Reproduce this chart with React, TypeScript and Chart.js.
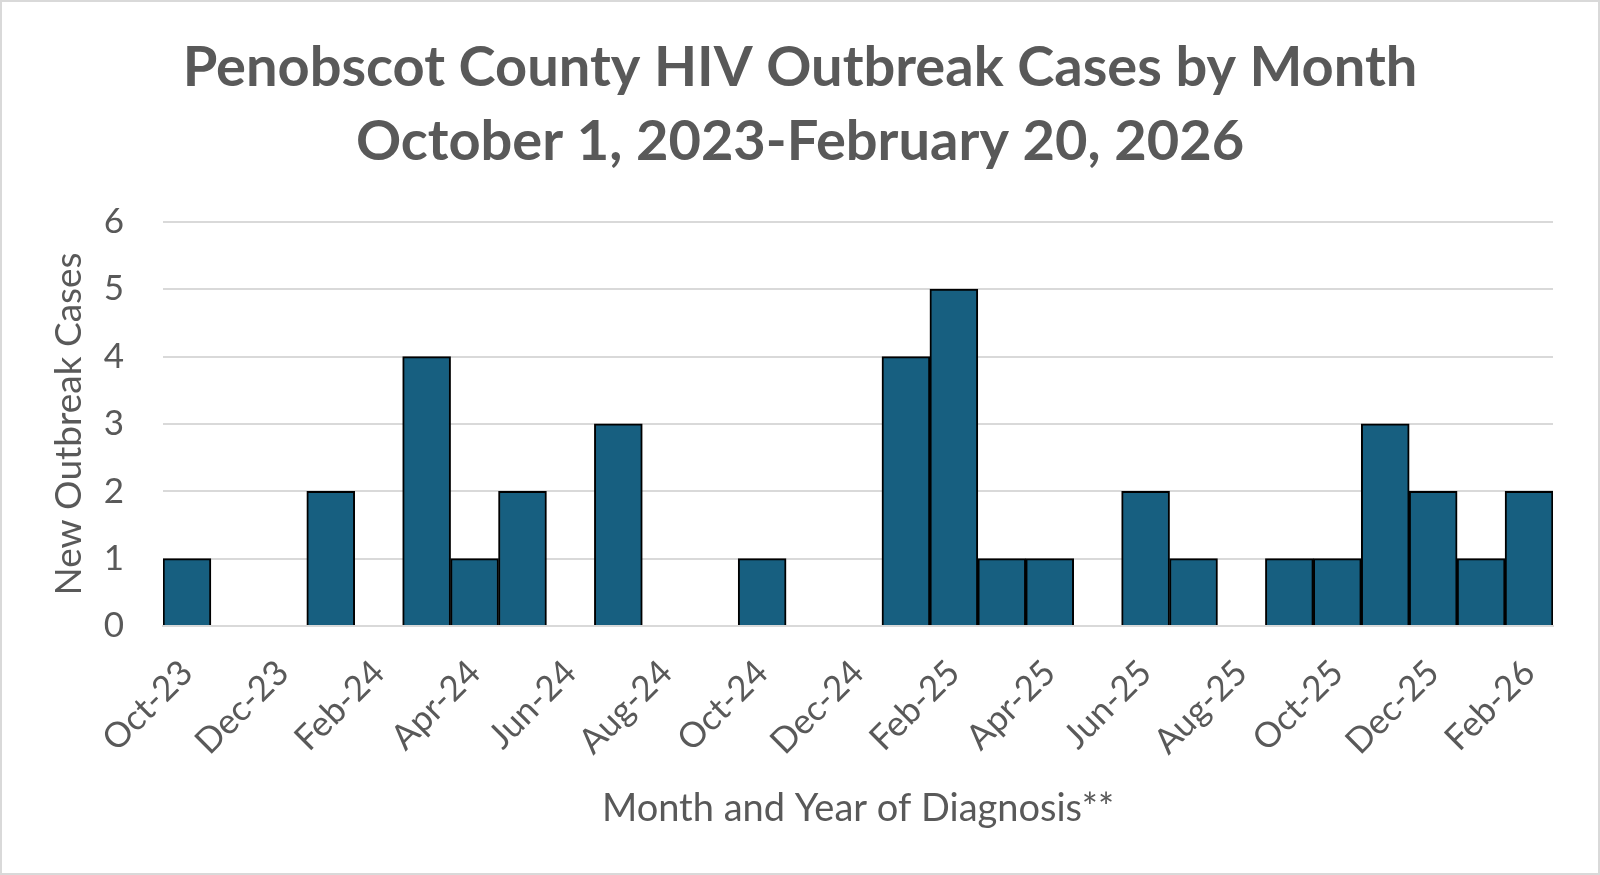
import { useEffect, useRef } from 'react'
import { Chart, registerables } from 'chart.js'

Chart.register(...registerables)

const months = [
  'Oct-23', 'Nov-23', 'Dec-23',
  'Jan-24', 'Feb-24', 'Mar-24', 'Apr-24', 'May-24', 'Jun-24',
  'Jul-24', 'Aug-24', 'Sep-24', 'Oct-24', 'Nov-24', 'Dec-24',
  'Jan-25', 'Feb-25', 'Mar-25', 'Apr-25', 'May-25', 'Jun-25',
  'Jul-25', 'Aug-25', 'Sep-25', 'Oct-25', 'Nov-25', 'Dec-25',
  'Jan-26', 'Feb-26',
]

const newCases = [
  1, 0, 0,
  2, 0, 4, 1, 2, 0,
  3, 0, 0, 1, 0, 0,
  4, 5, 1, 1, 0, 2,
  1, 0, 1, 1, 3, 2,
  1, 2,
]

const titleLines = [
  'Penobscot County HIV Outbreak Cases by Month',
  'October 1, 2023-February 20, 2026',
]

const textGray = '#595959'
const gridGray = '#d9d9d9'

const App = () => {
  const canvasRef = useRef<HTMLCanvasElement>(null)

  useEffect(() => {
    const chart = new Chart(canvasRef.current!, {
      type: 'bar',
      data: {
        labels: months,
        datasets: [
          {
            label: 'New Outbreak Cases',
            data: newCases,
            backgroundColor: '#175f80',
            borderColor: '#000000',
            borderWidth: 2,
            categoryPercentage: 1,
            barPercentage: 1,
          },
        ],
      },
      options: {
        animation: false,
        responsive: true,
        maintainAspectRatio: false,
        layout: { padding: 0 },
        plugins: {
          legend: { display: false },
          tooltip: { enabled: false },
          title: {
            display: true,
            text: titleLines,
            color: textGray,
            font: { family: 'Lato', size: 56, weight: 'bold', lineHeight: 1.32 },
            padding: { top: 31, bottom: 43 },
          },
        },
        scales: {
          x: {
            grid: { display: false },
            border: { display: true, color: gridGray, width: 2 },
            ticks: {
              autoSkip: false,
              minRotation: 45,
              maxRotation: 45,
              padding: 18,
              color: textGray,
              font: { family: 'Lato', size: 35 },
              callback: (_v, i) => (i % 2 === 0 ? months[i] : ''),
            },
            title: {
              display: true,
              text: 'Month and Year of Diagnosis**',
              color: textGray,
              font: { family: 'Lato', size: 38 },
              padding: { top: 0, bottom: 43 },
            },
            afterFit: (scale) => {
              scale.height = 249
            },
          },
          y: {
            min: 0,
            max: 6,
            grid: { color: gridGray, lineWidth: 2, drawTicks: false },
            border: { display: false },
            ticks: {
              stepSize: 1,
              padding: 39,
              color: textGray,
              font: { family: 'Lato', size: 35 },
            },
            title: {
              display: true,
              text: 'New Outbreak Cases',
              color: textGray,
              font: { family: 'Lato', size: 37 },
              padding: { top: 47, bottom: 0 },
            },
            afterFit: (scale) => {
              scale.width = 163
            },
          },
          // empty right-hand spacer so the title stays centred on the canvas
          spacer: {
            type: 'linear',
            position: 'right',
            grid: { display: false },
            border: { display: false },
            ticks: { display: false },
            afterFit: (scale) => {
              scale.width = 47
            },
          },
        },
      },
    })

    return () => chart.destroy()
  }, [])

  return (
    <div style={{ position: 'absolute', left: 0, top: 0, width: 1600, height: 875, background: '#fff' }}>
      <canvas ref={canvasRef}></canvas>
      <div
        style={{
          position: 'absolute',
          inset: 0,
          border: `2px solid ${gridGray}`,
          boxSizing: 'border-box',
          pointerEvents: 'none',
        }}
      ></div>
    </div>
  )
}

export default App
